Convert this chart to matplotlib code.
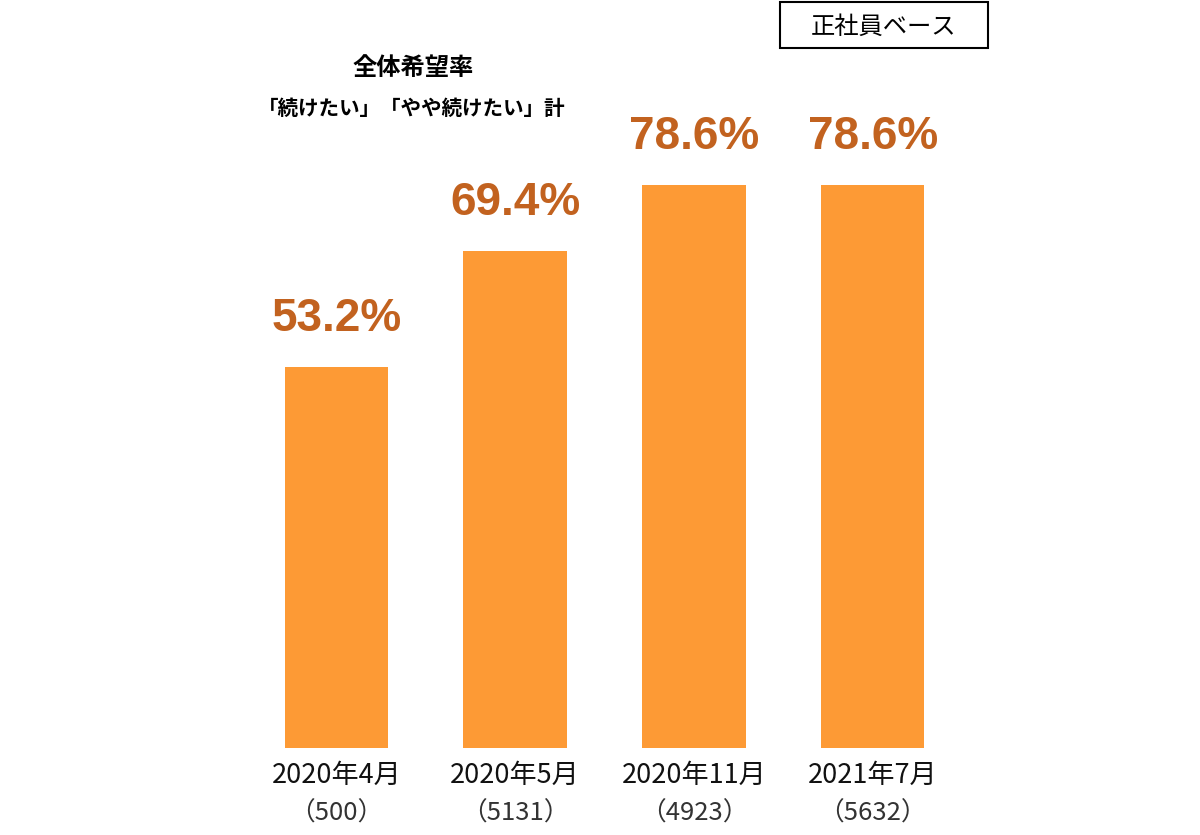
import matplotlib
matplotlib.use('Agg')
from matplotlib import pyplot as plt
import numpy as np

plt.rcParams['font.family'] = ['Noto Sans CJK JP', 'DejaVu Sans']

periods = ['2020年4月', '2020年5月', '2020年11月', '2021年7月']
sample_sizes = ['500', '5131', '4923', '5632']
rates = [53.2, 69.4, 78.6, 78.6]

bar_color = '#FD9A35'
label_color = '#C2621F'

fig = plt.figure(figsize=(12, 8.35), dpi=100)
ax = fig.add_axes([247 / 1200, 87 / 835, 715 / 1200, 748 / 835])
x = np.arange(len(periods))
ax.bar(x, rates, width=0.58, color=bar_color)
ax.set_xlim(-0.5, 3.5)
ax.set_ylim(0, 104.5)

#value labels above each bar
for xi, r in zip(x, rates):
    ax.text(xi, r + 6.8, f'{r:.1f}%', ha='center', va='center', fontsize=33,
            fontweight='bold', color=label_color, family=['Liberation Sans', 'DejaVu Sans'])

#category labels and sample sizes under the axis
trans = ax.get_xaxis_transform()
for xi, p, n in zip(x, periods, sample_sizes):
    ax.text(xi, -0.036, p, transform=trans, ha='center', va='center', fontsize=19.5, color='#111111')
    ax.text(xi, -0.087, f'（{n}）', transform=trans, ha='center', va='center', fontsize=18.5,
            color='#333333')

for s in ax.spines.values():
    s.set_visible(False)
ax.set_xticks([])
ax.set_yticks([])

fig.text(413 / 1200, 1 - 68 / 835, '全体希望率', ha='center', va='center', fontsize=17.5,
         fontweight='bold')
fig.text(412 / 1200, 1 - 108 / 835, '「続けたい」「やや続けたい」計', ha='center', va='center',
         fontsize=14.8, fontweight='bold')

fig.text(884 / 1200, 1 - 27 / 835, '正社員ベース', ha='center', va='center', fontsize=17.5)
box = plt.Rectangle((780 / 1200, 1 - 48 / 835), 208 / 1200, 46 / 835, transform=fig.transFigure,
                    fill=False, edgecolor='black', linewidth=1.5)
fig.add_artist(box)

fig.savefig('out.png', dpi=100)
